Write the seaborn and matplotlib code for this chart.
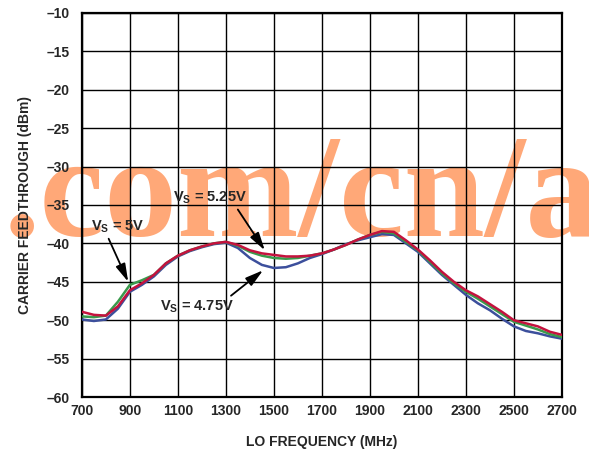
import numpy as np
import pandas as pd
import seaborn as sns
import matplotlib.pyplot as plt

# LO frequency (MHz) and carrier feedthrough (dBm)
freq = [700, 750, 800, 850, 900, 950, 1000, 1050, 1100, 1150, 1200, 1250, 1300,
        1350, 1400, 1450, 1500, 1550, 1600, 1650, 1700, 1750, 1800, 1850, 1900,
        1950, 2000, 2050, 2100, 2150, 2200, 2250, 2300, 2350, 2400, 2450, 2500,
        2550, 2600, 2650, 2700]

vs_475 = [-49.9, -50.1, -49.9, -48.5, -46.3, -45.4, -44.3, -42.8, -41.7, -41.0,
          -40.5, -40.1, -39.9, -40.6, -41.9, -42.8, -43.2, -43.1, -42.6, -41.9,
          -41.4, -40.8, -40.1, -39.6, -39.2, -38.8, -38.9, -40.0, -41.1, -42.6,
          -44.1, -45.4, -46.7, -47.8, -48.7, -49.8, -50.8, -51.4, -51.7, -52.1,
          -52.4]

vs_5 = [-49.5, -49.6, -49.4, -47.6, -45.4, -44.8, -44.1, -42.6, -41.6, -40.9,
        -40.4, -40.0, -39.8, -40.3, -41.1, -41.6, -41.9, -42.0, -41.9, -41.6,
        -41.3, -40.8, -40.2, -39.5, -38.9, -38.5, -38.7, -39.8, -40.9, -42.4,
        -43.9, -45.2, -46.3, -47.2, -48.2, -49.2, -50.2, -50.7, -51.2, -51.8,
        -52.2]

vs_525 = [-48.9, -49.3, -49.4, -48.2, -46.1, -45.2, -44.1, -42.6, -41.6, -40.9,
          -40.4, -40.0, -39.8, -40.2, -40.9, -41.3, -41.5, -41.7, -41.7, -41.6,
          -41.3, -40.8, -40.2, -39.5, -38.9, -38.4, -38.5, -39.6, -40.8, -42.2,
          -43.7, -45.0, -46.1, -46.9, -47.9, -48.9, -50.0, -50.4, -50.8, -51.5,
          -51.9]

supplies = ["4.75V", "5V", "5.25V"]
colors = ["#3c4f9c", "#3a9a4c", "#c4123e"]
x_ticks = list(range(700, 2701, 200))
y_ticks = list(range(-60, -9, 5))

df = pd.DataFrame({
    "freq": freq * 3,
    "dbm": vs_475 + vs_5 + vs_525,
    "vs": [s for s in supplies for _ in freq],
})

sns.set_theme(style="white")
plt.rcParams["font.family"] = ["Liberation Sans", "DejaVu Sans"]
plt.rcParams["mathtext.fontset"] = "custom"
plt.rcParams["mathtext.rm"] = "Liberation Sans:bold"
plt.rcParams["mathtext.it"] = "Liberation Sans:bold"
plt.rcParams["mathtext.bf"] = "Liberation Sans:bold"

fig = plt.figure(figsize=(5.89, 4.58), dpi=100)
ax = fig.add_axes([0.139, 0.133, 0.815, 0.839])
ax.patch.set_alpha(0)

# watermark sits behind the chart
fig.text(4 / 589, 0.485, ".com/cn/a", family=["Liberation Serif", "DejaVu Serif"],
         fontweight="bold", fontsize=105, color="#ffa878",
         ha="left", va="baseline", zorder=-5)

sns.lineplot(data=df, x="freq", y="dbm", hue="vs", hue_order=supplies,
             palette=colors, linewidth=1.8, legend=False, ax=ax, zorder=3)

ax.set_xlim(700, 2700)
ax.set_ylim(-60, -10)
ax.set_xticks(x_ticks)
ax.set_yticks(y_ticks)
ax.set_yticklabels([f"–{abs(v)}" for v in y_ticks])
ax.grid(True, color="black", linewidth=1.0)
ax.tick_params(length=0, labelsize=10)
ax.tick_params(axis="y", pad=9)
ax.tick_params(axis="x", pad=5)
for lab in ax.get_xticklabels() + ax.get_yticklabels():
    lab.set_fontweight("bold")
for sp in ax.spines.values():
    sp.set_color("black")
    sp.set_linewidth(1.6)

ax.set_xlabel("LO FREQUENCY (MHz)", fontsize=10, fontweight="bold", labelpad=12)
ax.set_ylabel("CARRIER FEEDTHROUGH (dBm)", fontsize=10, fontweight="bold", labelpad=10)

arrow = dict(arrowstyle="-|>,head_length=0.9,head_width=0.25", color="black",
             lw=1.3, mutation_scale=12, shrinkA=0, shrinkB=0)
ax.annotate(r"V$_\mathrm{S}$ = 5V", xy=(893, -45.0), xytext=(850, -37.9),
            ha="center", va="center", fontsize=10.5, fontweight="bold",
            arrowprops=dict(arrow, relpos=(0.3, 0.0)))
ax.annotate(r"V$_\mathrm{S}$ = 5.25V", xy=(1462, -40.9), xytext=(1233, -34.1),
            ha="center", va="center", fontsize=10.5, fontweight="bold",
            arrowprops=dict(arrow, relpos=(0.85, 0.0)))
ax.annotate(r"V$_\mathrm{S}$ = 4.75V", xy=(1455, -43.5), xytext=(1181, -48.3),
            ha="center", va="center", fontsize=10.5, fontweight="bold",
            arrowprops=dict(arrow, relpos=(0.9, 1.0)))

fig.savefig("out.png", dpi=100)
